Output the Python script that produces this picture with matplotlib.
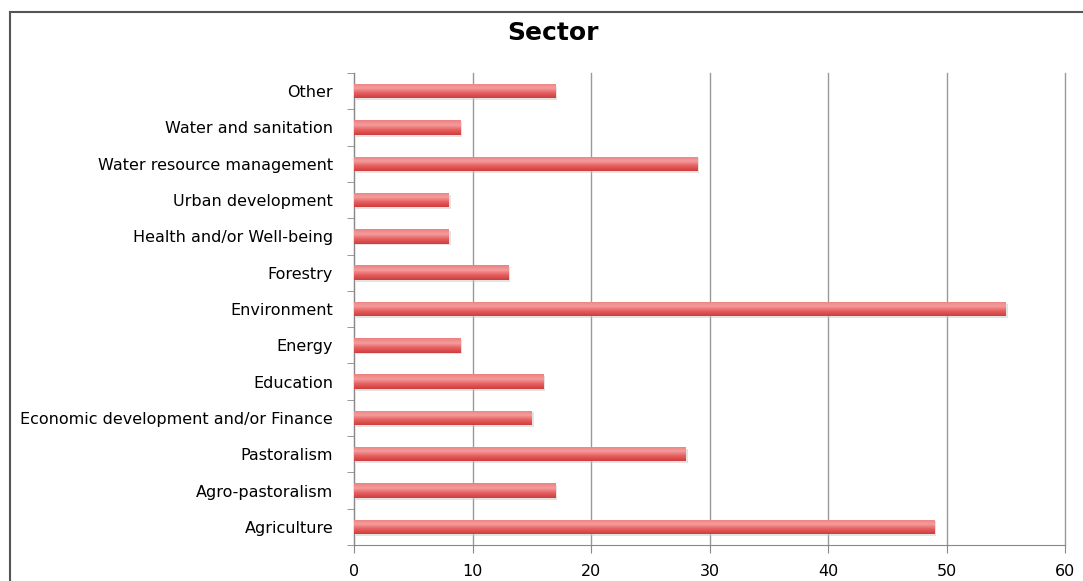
import matplotlib.pyplot as plt
import numpy as np
from matplotlib.lines import Line2D
from matplotlib.colors import LinearSegmentedColormap

sectors = [
    "Agriculture",
    "Agro-pastoralism",
    "Pastoralism",
    "Economic development and/or Finance",
    "Education",
    "Energy",
    "Environment",
    "Forestry",
    "Health and/or Well-being",
    "Urban development",
    "Water resource management",
    "Water and sanitation",
    "Other",
]
counts = [49, 17, 28, 15, 16, 9, 55, 13, 8, 8, 29, 9, 17]
x_ticks = [0, 10, 20, 30, 40, 50, 60]

fig = plt.figure(figsize=(10.83, 5.81), dpi=100)
ax = fig.add_axes([354 / 1083, 36 / 581, (1065 - 354) / 1083, (545 - 73) / 581])

y = np.arange(len(sectors))
bar_h = 0.4
# soft drop shadow
ax.barh(y - 0.05, counts, height=bar_h, left=0.15, color="#c8c8c8", alpha=0.5, zorder=2)
bars = ax.barh(y, counts, height=bar_h, color="#e05a5a", zorder=3)

grad = LinearSegmentedColormap.from_list("bar", ["#cf3d3d", "#e65e5e", "#f49c9c", "#ee8080"])
gradient = np.linspace(0, 1, 64).reshape(-1, 1)
for bar in bars:
    x0, y0 = bar.get_x(), bar.get_y()
    w, h = bar.get_width(), bar.get_height()
    im = ax.imshow(gradient, cmap=grad, aspect="auto", extent=(x0, x0 + w, y0, y0 + h),
                   origin="lower", zorder=4)
    im.set_clip_path(bar)

ax.set_xlim(0, 60)
ax.set_ylim(-0.5, len(sectors) - 0.5)
ax.set_xticks(x_ticks)
ax.set_xticklabels([str(t) for t in x_ticks], fontsize=11.5)
ax.set_yticks(y)
ax.set_yticklabels(sectors, fontsize=11.5)
ax.tick_params(axis="y", length=0, pad=15)
ax.set_yticks(np.arange(-0.5, len(sectors), 1), minor=True)
ax.tick_params(axis="y", which="minor", length=5, color="#888888", direction="out")
ax.tick_params(axis="x", length=6, color="#888888", direction="out", pad=8)

ax.grid(axis="x", color="#999999", linewidth=1.0, zorder=0)
for gl in ax.get_xgridlines():
    gl.set_clip_on(False)
ax.set_axisbelow(True)
for side in ["top", "right"]:
    ax.spines[side].set_visible(False)
for side in ["left", "bottom"]:
    ax.spines[side].set_color("#888888")

fig.text(553 / 1083, 1 - 33 / 581, "Sector", ha="center", va="center",
         fontsize=18, fontweight="bold")

# outer frame
fig.add_artist(Line2D([9.5 / 1083, 9.5 / 1083], [0, 1 - 12 / 581], color="#555555", linewidth=1.5))
fig.add_artist(Line2D([9.5 / 1083, 1], [1 - 12 / 581, 1 - 12 / 581], color="#555555", linewidth=1.5))

fig.savefig("out.png", dpi=100)
